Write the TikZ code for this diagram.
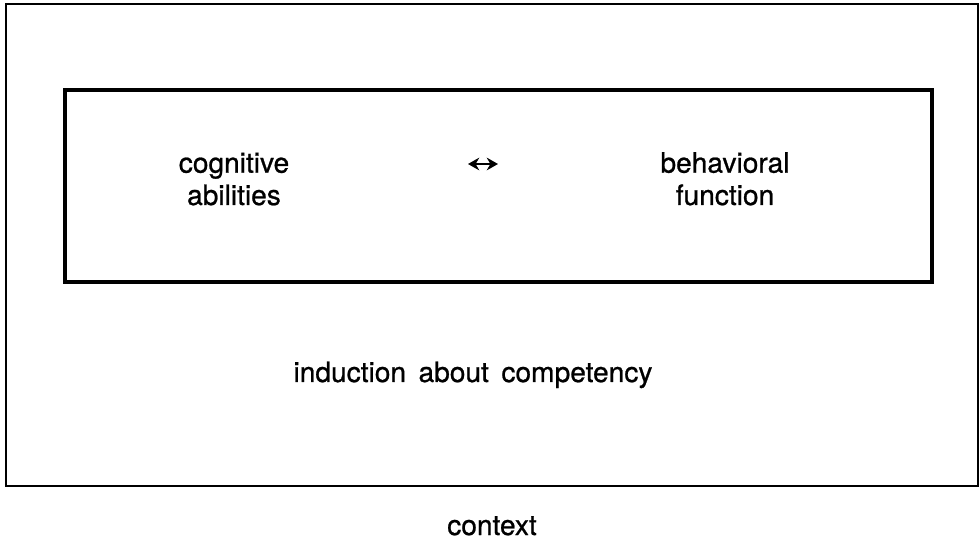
\documentclass[tikz,border=0pt]{standalone}
\usepackage{fontspec}
\setmainfont{TeX Gyre Heros}[WordSpace=1.6, FakeBold=0.8]
\usetikzlibrary{arrows.meta}

\begin{document}
\begin{tikzpicture}
    \tikzstyle{every node}=[font=\fontsize{20}{23}\selectfont, inner sep=0pt, align=center, anchor=base]
    \tikzstyle{frame}=[draw=black, line width=2pt]
    \def\w{24.5}
    \def\h{13.65}
    \useasboundingbox (0,0) rectangle (\w,\h);
    % outer context box and the inner box
    \draw[frame] (0.15,1.5) rectangle (24.45,13.55);
    \draw[frame, line width=2.4pt] (1.625,6.6) rectangle (23.3,11.4);
    % base is the second line here
    \node (cog) at (5.85,8.525) {cognitive\\abilities};
    \node (beh) at (18.125,8.525) {behavioral\\function};
    % the small two-way arrow between them
    \coordinate (al) at (11.7,9.55);
    \coordinate (ar) at (12.45,9.55);
    \draw[line width=1.8pt, {Stealth[length=8pt,width=9pt]}-{Stealth[length=8pt,width=9pt]}] (al) -- (ar);
    \node (ind) at (11.825,4.1) {induction about competency};
    \node (ctx) at (12.3,0.275) {context};
  \end{tikzpicture}
\end{document}
